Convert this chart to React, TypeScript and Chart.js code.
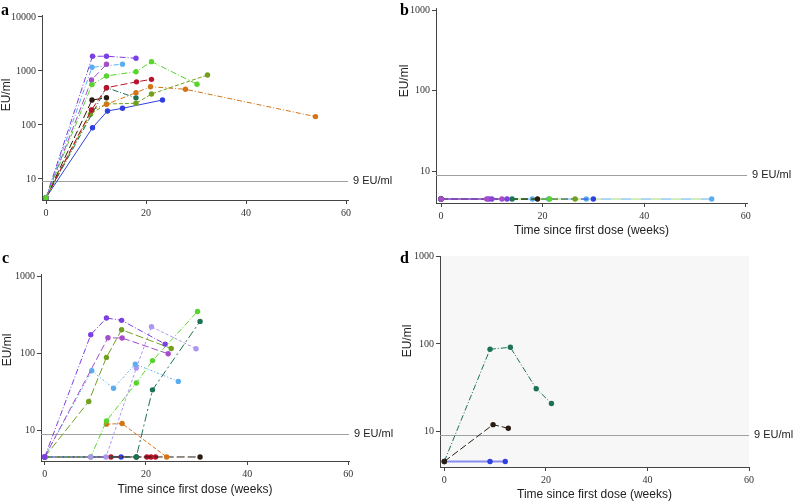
import React, { useEffect, useRef } from "react";
import { Chart, registerables } from "chart.js";
Chart.register(...registerables);

const W = 793;
const H = 502;
const BASE = 4.5;
const THRESHOLD = 9;
const THRESHOLD_LABEL = "9 EU/ml";
const Y_TITLE = "EU/ml";
const X_TITLE = "Time since first dose (weeks)";
const X_TICKS = [0, 20, 40, 60];
const Y_TICKS_A = [10, 100, 1000, 10000];
const Y_TICKS_BCD = [10, 100, 1000];

const C = {
  violet: "#7b3fe4",
  orchid: "#a54ec8",
  lightblue: "#5aaef0",
  green: "#58d42c",
  red: "#b8132c",
  teal: "#1c7252",
  black: "#2a1c10",
  orange: "#d47418",
  olive: "#72a01e",
  blue: "#2f3fe0",
  lavender: "#ad96f0",
  lightgreen: "#a6dc78",
  paleblue: "#8a8cf0",
};

// ---- Panel a ----
const A_GREEN_X = [0, 9.2, 12.1, 18, 21.1, 30.2];
const A_GREEN_Y = [BASE, 560, 810, 970, 1490, 570];
const A_VIOLET_X = [0, 9.3, 12.1, 18];
const A_VIOLET_Y = [BASE, 1870, 1880, 1720];
const A_ORCHID_X = [0, 9.1, 12.1];
const A_ORCHID_Y = [BASE, 680, 1330];
const A_LIGHTBLUE_X = [0, 9.2, 15.3];
const A_LIGHTBLUE_Y = [BASE, 1170, 1340];
const A_RED_X = [0, 9.1, 12.1, 18.1, 21.1];
const A_RED_Y = [BASE, 190, 490, 630, 700];
const A_TEAL_X = [0, 12.1, 18];
const A_TEAL_Y = [BASE, 490, 318];
const A_BLACK_X = [0, 9.2, 12.1];
const A_BLACK_Y = [BASE, 290, 320];
const A_ORANGE_X = [0, 9.1, 12.1, 18, 20.9, 27.9, 53.9];
const A_ORANGE_Y = [BASE, 190, 241, 397, 512, 458, 143];
const A_OLIVE_X = [0, 8.9, 12.1, 18, 21.1, 32.3];
const A_OLIVE_Y = [BASE, 158, 245, 252, 375, 843];
const A_BLUE_X = [0, 9.3, 12.3, 15.3, 23.3];
const A_BLUE_Y = [BASE, 89, 182, 204, 290];

// ---- Panel b ----
const B_ORCHID_X = [0, 9, 12];
const B_ORCHID_Y = [BASE, BASE, BASE];
const B_VIOLET_X = [0, 9.4, 10, 13];
const B_VIOLET_Y = [BASE, BASE, BASE, BASE];
const B_TEAL_X = [0, 14];
const B_TEAL_Y = [BASE, BASE];
const B_LIGHTBLUE_X = [0, 18, 21.2, 28.6, 53.3];
const B_LIGHTBLUE_Y = [BASE, BASE, BASE, BASE, BASE];
const B_LIGHTGREEN_X = [0, 53.3];
const B_LIGHTGREEN_Y = [BASE, BASE];
const B_BLACK_X = [0, 19];
const B_BLACK_Y = [BASE, BASE];
const B_GREEN_X = [0, 21.4];
const B_GREEN_Y = [BASE, BASE];
const B_OLIVE_X = [0, 26.4];
const B_OLIVE_Y = [BASE, BASE];
const B_BLUE_X = [0, 30];
const B_BLUE_Y = [BASE, BASE];

// ---- Panel c ----
const C_VIOLET_X = [0, 9.1, 12.2, 15.2, 23.8];
const C_VIOLET_Y = [BASE, 173, 285, 266, 131];
const C_ORCHID_X = [0, 12.5, 15.3, 24.4];
const C_ORCHID_Y = [BASE, 158, 157, 98];
const C_OLIVE_X = [0, 8.7, 12.2, 15.2, 25];
const C_OLIVE_Y = [BASE, 23.6, 88, 201, 115];
const C_LIGHTBLUE_X = [0, 9.3, 13.6, 17.9, 26.4];
const C_LIGHTBLUE_Y = [BASE, 59, 35, 72, 43];
const C_LAVENDER_X = [0, 9.1, 12.1, 18.1, 21.1, 29.9];
const C_LAVENDER_Y = [BASE, BASE, BASE, 64, 220, 114];
const C_GREEN_X = [0, 9.1, 12.2, 18.1, 21.3, 30.2];
const C_GREEN_Y = [BASE, BASE, 13.2, 41, 80, 347];
const C_TEAL_X = [0, 18.1, 21.3, 30.7];
const C_TEAL_Y = [BASE, BASE, 33.4, 258];
const C_ORANGE_X = [12.2, 15.3, 24.1];
const C_ORANGE_Y = [12, 12.2, BASE];
const C_RED_X = [0, 13.1, 20.2, 21, 21.9];
const C_RED_Y = [BASE, BASE, BASE, BASE, BASE];
const C_BLUE_X = [0, 15.1];
const C_BLUE_Y = [BASE, BASE];
const C_BLACK_X = [0, 18.1, 30.7];
const C_BLACK_Y = [BASE, BASE, BASE];

// ---- Panel d ----
const D_BLACK_X = [0, 9.6, 12.6];
const D_BLACK_Y = [BASE, 11.9, 10.8];
const D_TEAL_X = [0, 9, 13, 18.1, 21.1];
const D_TEAL_Y = [BASE, 87, 91.6, 30.7, 20.8];
const D_BLUE_X = [0, 9, 12];
const D_BLUE_Y = [BASE, BASE, BASE];

type Series = {
  x: number[];
  y: number[];
  color: string;
  dash: number[];
  pointColor?: string;
  width?: number;
  radius?: number;
  dashOffset?: number;
};

const DD = [6, 2, 1, 2];
const LD = [7, 3];
const SD = [4, 2];

const PANEL_A: Series[] = [
  { x: A_GREEN_X, y: A_GREEN_Y, color: C.green, dash: DD },
  { x: A_VIOLET_X, y: A_VIOLET_Y, color: C.violet, dash: DD },
  { x: A_ORCHID_X, y: A_ORCHID_Y, color: C.orchid, dash: LD },
  { x: A_LIGHTBLUE_X, y: A_LIGHTBLUE_Y, color: C.lightblue, dash: [5, 2, 1, 2] },
  { x: A_RED_X, y: A_RED_Y, color: C.red, dash: LD },
  { x: A_TEAL_X, y: A_TEAL_Y, color: C.teal, dash: DD },
  { x: A_BLACK_X, y: A_BLACK_Y, color: C.black, dash: [8, 3] },
  { x: A_ORANGE_X, y: A_ORANGE_Y, color: C.orange, dash: [5, 2, 1, 2] },
  { x: A_OLIVE_X, y: A_OLIVE_Y, color: C.olive, dash: SD },
  { x: A_BLUE_X, y: A_BLUE_Y, color: C.blue, dash: [] },
];

const PANEL_B: Series[] = [
  { x: B_ORCHID_X, y: B_ORCHID_Y, color: C.orchid, dash: [] },
  { x: B_VIOLET_X, y: B_VIOLET_Y, color: C.violet, dash: [] },
  { x: B_TEAL_X, y: B_TEAL_Y, color: C.teal, dash: LD },
  { x: B_BLACK_X, y: B_BLACK_Y, color: C.black, dash: LD },
  { x: B_GREEN_X, y: B_GREEN_Y, color: C.green, dash: LD },
  { x: B_OLIVE_X, y: B_OLIVE_Y, color: C.olive, dash: LD },
  { x: B_BLUE_X, y: B_BLUE_Y, color: C.blue, dash: LD },
  { x: B_LIGHTBLUE_X, y: B_LIGHTBLUE_Y, color: C.lightblue, dash: [10, 10] },
  { x: B_LIGHTGREEN_X, y: B_LIGHTGREEN_Y, color: C.lightgreen, dash: [10, 10], dashOffset: 10, radius: 0 },
];

const PANEL_C: Series[] = [
  { x: C_VIOLET_X, y: C_VIOLET_Y, color: C.violet, dash: DD },
  { x: C_ORCHID_X, y: C_ORCHID_Y, color: C.orchid, dash: LD },
  { x: C_OLIVE_X, y: C_OLIVE_Y, color: C.olive, dash: [8, 3] },
  { x: C_LIGHTBLUE_X, y: C_LIGHTBLUE_Y, color: C.lightblue, dash: [2, 2, 1, 2] },
  { x: C_LAVENDER_X, y: C_LAVENDER_Y, color: C.lavender, dash: [3, 2] },
  { x: C_GREEN_X, y: C_GREEN_Y, color: C.green, dash: DD },
  { x: C_TEAL_X, y: C_TEAL_Y, color: C.teal, dash: [8, 3, 2, 3] },
  { x: C_ORANGE_X, y: C_ORANGE_Y, color: C.orange, dash: SD },
  { x: C_BLACK_X, y: C_BLACK_Y, color: C.black, dash: [8, 3] },
  { x: C_RED_X, y: C_RED_Y, color: C.red, dash: LD },
  { x: C_BLUE_X, y: C_BLUE_Y, color: C.blue, dash: [] },
];

const PANEL_D: Series[] = [
  { x: D_BLACK_X, y: D_BLACK_Y, color: C.black, dash: [7, 3] },
  { x: D_TEAL_X, y: D_TEAL_Y, color: C.teal, dash: DD },
  { x: D_BLUE_X, y: D_BLUE_Y, color: C.paleblue, pointColor: C.blue, dash: [], width: 2 },
];

type Panel = {
  letter: string;
  letterPos: [number, number];
  yTitlePos: [number, number];
  area: { left: number; right: number; top: number; bottom: number };
  xMin: number;
  xMax: number;
  yMin: number;
  yMax: number;
  yTicks: number[];
  series: Series[];
  xTitle: boolean;
  xAxisH: number;
  bg?: string;
};

const PANELS: Panel[] = [
  {
    letter: "a", letterPos: [1, 15], yTitlePos: [7, 95],
    area: { left: 42, right: 348, top: 15, bottom: 200 },
    xMin: -0.8, xMax: 60.4, yMin: Math.pow(10, 0.611), yMax: Math.pow(10, 4.037),
    yTicks: Y_TICKS_A, series: PANEL_A, xTitle: false, xAxisH: 20,
  },
  {
    letter: "b", letterPos: [400, 15], yTitlePos: [405, 81],
    area: { left: 436, right: 747, top: 7, bottom: 203 },
    xMin: -0.985, xMax: 60.25, yMin: Math.pow(10, 0.604), yMax: Math.pow(10, 3.025),
    yTicks: Y_TICKS_BCD, series: PANEL_B, xTitle: true, xAxisH: 35,
  },
  {
    letter: "c", letterPos: [2, 263], yTitlePos: [8, 350],
    area: { left: 41, right: 349, top: 274, bottom: 461 },
    xMin: -0.73, xMax: 60.13, yMin: Math.pow(10, 0.601), yMax: Math.pow(10, 3.026),
    yTicks: Y_TICKS_BCD, series: PANEL_C, xTitle: true, xAxisH: 36,
  },
  {
    letter: "d", letterPos: [400, 263], yTitlePos: [408, 341],
    area: { left: 440, right: 749, top: 256, bottom: 467 },
    xMin: -0.85, xMax: 60, yMin: Math.pow(10, 0.59), yMax: Math.pow(10, 3.008),
    yTicks: Y_TICKS_BCD, series: PANEL_D, xTitle: true, xAxisH: 35, bg: "#f7f7f7",
  },
];

const AXIS = "#444";
const Y_W = 40;
const SANS = "'Liberation Sans', Arial, sans-serif";
const SERIF = "'Liberation Serif', 'Times New Roman', serif";

function makeConfig(p: Panel): any {
  const decor = {
    id: "decor" + p.letter,
    beforeDraw(chart: any) {
      if (!p.bg) return;
      const a = chart.chartArea;
      const ctx = chart.ctx;
      ctx.save();
      ctx.fillStyle = p.bg;
      ctx.fillRect(a.left, a.top, a.right - a.left, a.bottom - a.top);
      ctx.restore();
    },
    beforeDatasetsDraw(chart: any) {
      const a = chart.chartArea;
      const ctx = chart.ctx;
      const y = chart.scales.y.getPixelForValue(THRESHOLD);
      ctx.save();
      ctx.strokeStyle = "#a0a0a0";
      ctx.lineWidth = 1;
      ctx.beginPath();
      ctx.moveTo(a.left, Math.round(y) + 0.5);
      ctx.lineTo(a.right, Math.round(y) + 0.5);
      ctx.stroke();
      ctx.restore();
    },
    afterDraw(chart: any) {
      const a = chart.chartArea;
      const ctx = chart.ctx;
      const y = chart.scales.y.getPixelForValue(THRESHOLD);
      ctx.save();
      ctx.fillStyle = "#222";
      ctx.font = "11px " + SANS;
      ctx.textBaseline = "middle";
      ctx.textAlign = "left";
      ctx.fillText(THRESHOLD_LABEL, a.right + 5, y);
      // y title
      ctx.save();
      ctx.translate(p.yTitlePos[0], p.yTitlePos[1]);
      ctx.rotate(-Math.PI / 2);
      ctx.textAlign = "center";
      ctx.textBaseline = "middle";
      ctx.font = "12px " + SANS;
      ctx.fillText(Y_TITLE, 0, 0);
      ctx.restore();
      // panel letter
      ctx.font = "bold 16px " + SERIF;
      ctx.textBaseline = "alphabetic";
      ctx.textAlign = "left";
      ctx.fillStyle = "#000";
      ctx.fillText(p.letter, p.letterPos[0], p.letterPos[1]);
      ctx.restore();
    },
  };

  return {
    type: "line",
    data: {
      datasets: p.series.map((s) => ({
        data: s.x.map((x, i) => ({ x, y: s.y[i] })),
        borderColor: s.color,
        backgroundColor: s.pointColor || s.color,
        pointBackgroundColor: s.pointColor || s.color,
        pointBorderWidth: 0,
        pointRadius: s.radius !== undefined ? s.radius : 2.7,
        borderWidth: s.width || 1,
        borderDash: s.dash,
        borderDashOffset: s.dashOffset || 0,
        tension: 0,
        fill: false,
      })),
    },
    options: {
      responsive: false,
      animation: false,
      events: [],
      layout: {
        padding: {
          left: p.area.left - Y_W,
          top: p.area.top,
          right: W - p.area.right,
          bottom: H - p.area.bottom - p.xAxisH,
        },
      },
      plugins: { legend: { display: false }, tooltip: { enabled: false } },
      scales: {
        x: {
          type: "linear",
          min: p.xMin,
          max: p.xMax,
          afterFit: (s: any) => { s.height = p.xAxisH; },
          afterBuildTicks: (s: any) => { s.ticks = X_TICKS.map((v) => ({ value: v })); },
          grid: { drawOnChartArea: false, drawTicks: true, tickLength: 4, color: AXIS },
          border: { display: true, color: AXIS, width: 1 },
          ticks: {
            font: { family: SERIF, size: 10 }, color: "#333", padding: 3,
            maxRotation: 0, autoSkip: false, callback: (v: any) => String(v),
          },
          title: {
            display: p.xTitle, text: X_TITLE, color: "#222", padding: 0,
            font: { family: SANS, size: 12 },
          },
        },
        y: {
          type: "logarithmic",
          min: p.yMin,
          max: p.yMax,
          afterFit: (s: any) => { s.width = Y_W; },
          afterBuildTicks: (s: any) => { s.ticks = p.yTicks.map((v) => ({ value: v })); },
          grid: { drawOnChartArea: false, drawTicks: true, tickLength: 4, color: AXIS },
          border: { display: true, color: AXIS, width: 1 },
          ticks: {
            font: { family: SERIF, size: 10 }, color: "#333", padding: 2,
            autoSkip: false, callback: (v: any) => String(v),
          },
        },
      },
    },
    plugins: [decor],
  };
}

function PanelChart({ panel }: { panel: Panel }) {
  const ref = useRef<HTMLCanvasElement>(null);
  useEffect(() => {
    if (!ref.current) return;
    const chart = new Chart(ref.current, makeConfig(panel));
    return () => chart.destroy();
  }, [panel]);
  return (
    <canvas
      ref={ref}
      width={W}
      height={H}
      style={{ position: "absolute", left: 0, top: 0, width: W, height: H }}
    />
  );
}

export default function App() {
  return (
    <div style={{ position: "fixed", left: 0, top: 0, width: W, height: H, background: "#fff" }}>
      {PANELS.map((p) => (
        <PanelChart key={p.letter} panel={p} />
      ))}
    </div>
  );
}
